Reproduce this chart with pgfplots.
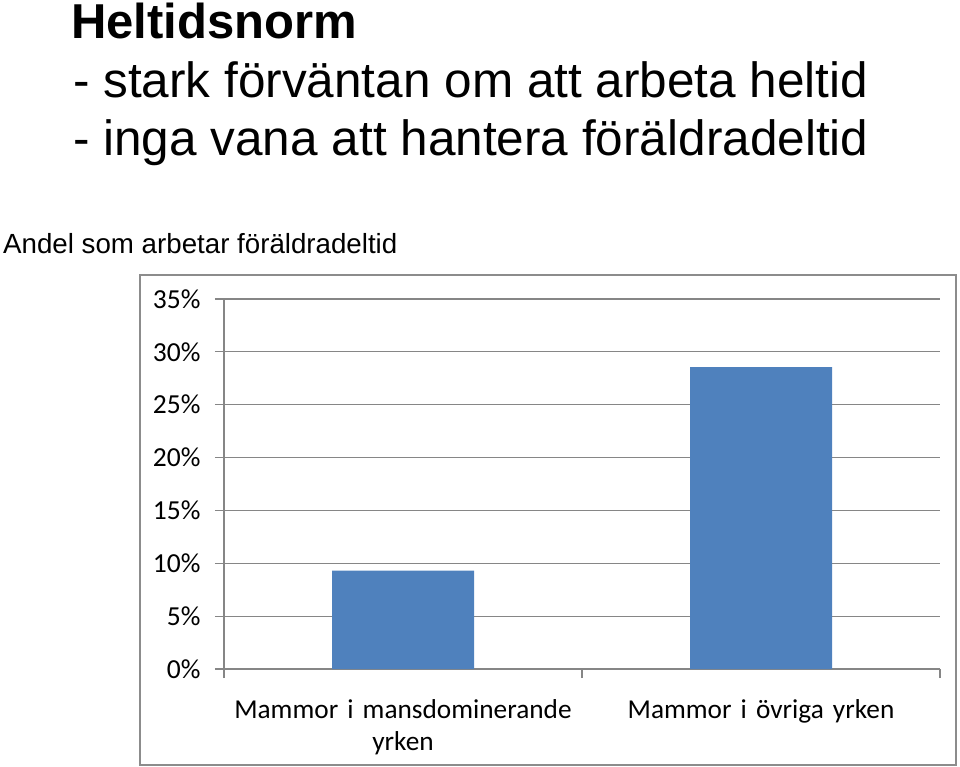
\documentclass[border=0pt]{standalone}
\usepackage{pgfplots}
\pgfplotsset{compat=1.18}
\usepackage{fontspec}
\setmainfont{Liberation Sans}
\newfontfamily\calibri{Carlito}
\definecolor{barblue}{HTML}{4F81BD}
\definecolor{gridgray}{RGB}{134,134,134}
\definecolor{framegray}{RGB}{140,140,140}
\begin{document}
\begin{tikzpicture}[x=1pt,y=1pt]
\useasboundingbox (0,0) rectangle (960,-767);
\node[anchor=base west, inner sep=0, font=\fontsize{49}{58}\selectfont\bfseries] at (71,-39) {Heltidsnorm};
\node[anchor=base west, inner sep=0, font=\fontsize{49.5}{58}\selectfont] at (73,-98) {- stark förväntan om att arbeta heltid};
\node[anchor=base west, inner sep=0, font=\fontsize{49.5}{58}\selectfont] at (73,-156) {- inga vana att hantera föräldradeltid};
\node[anchor=base west, inner sep=0, font=\fontsize{27.7}{32}\selectfont] at (3,-253) {Andel som arbetar föräldradeltid};
\draw[line width=1.5pt, framegray] (140,-275) rectangle (956,-765);
\begin{axis}[
  at={(224pt,-669pt)}, anchor=south west,
  scale only axis, width=716pt, height=370pt,
  xmin=-0.5, xmax=1.5, ymin=0, ymax=35,
  axis lines*=left,
  axis line style={gridgray, line width=1.2pt},
  ybar, bar width=142pt,
  ytick={0,5,10,15,20,25,30,35},
  yticklabels={0\%,5\%,10\%,15\%,20\%,25\%,30\%,35\%},
  yticklabel style={font=\fontsize{27.5}{32}\selectfont\calibri, xshift=-11pt},
  ymajorgrids,
  grid style={gridgray, line width=1.2pt},
  tick align=outside,
  major tick length=9pt,
  tick style={gridgray, line width=1.2pt},
  xtick={-0.5,0.5,1.5},
  xticklabels={,,},
  extra x ticks={0,1},
  extra x tick labels={Mammor i mansdominerande\\yrken, Mammor i övriga yrken},
  extra x tick style={major tick length=0pt, tick style={draw=none}},
  xticklabel style={font=\fontsize{27.3}{32}\selectfont\calibri, text width=358pt, align=center, anchor=north, inner sep=0pt, yshift=-30pt},
]
\addplot[fill=barblue, draw=none] coordinates {(0,9.3) (1,28.55)};
\end{axis}
\end{tikzpicture}
\end{document}
